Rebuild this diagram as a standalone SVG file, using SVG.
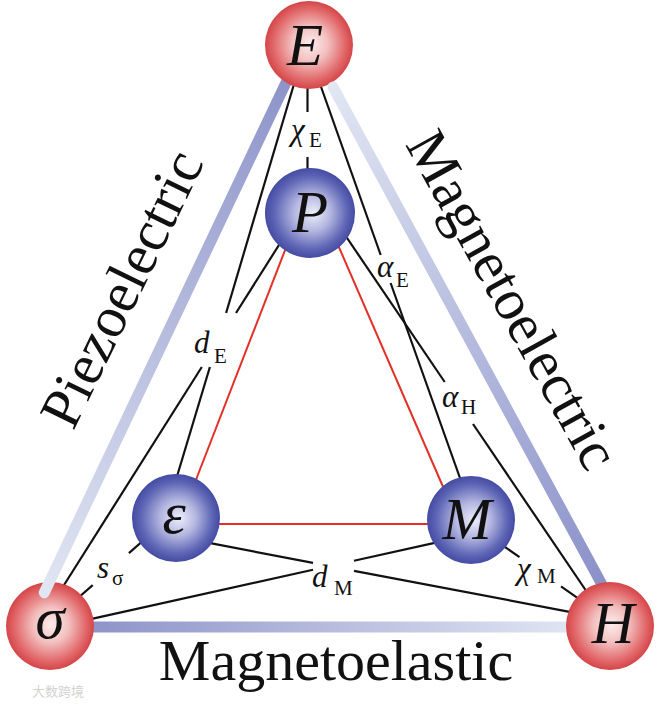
<svg xmlns="http://www.w3.org/2000/svg" width="661" height="704" viewBox="0 0 661 704">
<defs>
<style>
.ln{stroke:#111;stroke-width:2.2;fill:none;stroke-linecap:butt}
.rd{stroke:#e33027;stroke-width:2;fill:none}
.bar{fill:none;stroke-width:11}
.serif{font-family:"Liberation Serif","Times New Roman",serif;fill:#111}
.big{font-size:58px}
.nt{font-size:59px;font-style:italic;text-anchor:middle}
.sym{font-size:31px;font-style:italic}
.sub{font-size:21px;font-style:normal}
</style>
<radialGradient id="gRed" cx="50%" cy="50%" r="50%" fx="52%" fy="48%">
<stop offset="0" stop-color="#fbecec"/>
<stop offset="0.4" stop-color="#f3c0c0"/>
<stop offset="0.8" stop-color="#e26a6c"/>
<stop offset="1" stop-color="#d44548"/>
</radialGradient>
<radialGradient id="gBlue" cx="50%" cy="50%" r="50%" fx="54%" fy="50%">
<stop offset="0" stop-color="#eceefa"/>
<stop offset="0.4" stop-color="#b4b7e0"/>
<stop offset="0.8" stop-color="#6067b6"/>
<stop offset="1" stop-color="#444ba3"/>
</radialGradient>
<linearGradient id="gLeft" gradientUnits="userSpaceOnUse" x1="292" y1="70" x2="44" y2="593">
<stop offset="0" stop-color="#8c92c8"/>
<stop offset="1" stop-color="#e1e6f3"/>
</linearGradient>
<linearGradient id="gRight" gradientUnits="userSpaceOnUse" x1="333" y1="87" x2="606" y2="592">
<stop offset="0" stop-color="#e1e6f3"/>
<stop offset="1" stop-color="#8a90c8"/>
</linearGradient>
<linearGradient id="gBottom" gradientUnits="userSpaceOnUse" x1="70" y1="627" x2="590" y2="627">
<stop offset="0" stop-color="#8a90c7"/>
<stop offset="1" stop-color="#e3e8f4"/>
</linearGradient>
</defs>
<rect width="661" height="704" fill="#fff"/>

<g id="connectors">
<line class="rd" x1="289" y1="240" x2="192" y2="490"/>
<line class="rd" x1="338" y1="245" x2="444" y2="489"/>
<line class="rd" x1="215" y1="524" x2="432" y2="524"/>
<line class="ln" x1="307.5" y1="85" x2="307.5" y2="112"/>
<line class="ln" x1="307.5" y1="157" x2="307.5" y2="172"/>
<line class="ln" x1="295.2" y1="80" x2="226.1" y2="313"/>
<line class="ln" x1="209.9" y1="367" x2="175.9" y2="480"/>
<line class="ln" x1="283.4" y1="238" x2="236" y2="313"/>
<line class="ln" x1="201.8" y1="367" x2="59.6" y2="592"/>
<line class="ln" x1="318.6" y1="80" x2="380.7" y2="255"/>
<line class="ln" x1="390.6" y1="283" x2="461.4" y2="482"/>
<line class="ln" x1="343" y1="232" x2="444.7" y2="382"/>
<line class="ln" x1="473" y1="424" x2="591" y2="598"/>
<line class="ln" x1="205" y1="542.2" x2="313" y2="562.9"/>
<line class="ln" x1="354" y1="570.8" x2="580" y2="613.8"/>
<line class="ln" x1="438" y1="542.1" x2="354" y2="560.7"/>
<line class="ln" x1="313" y1="569.8" x2="85" y2="620.4"/>
<line class="ln" x1="145" y1="539" x2="128.9" y2="553.1"/>
<line class="ln" x1="92.7" y1="585.1" x2="78" y2="598"/>
<line class="ln" x1="500" y1="543.5" x2="519.5" y2="557.2"/>
<line class="ln" x1="561" y1="586.4" x2="582" y2="601.1"/>
<line id="bar-bottom" class="bar" stroke="url(#gBottom)" x1="70" y1="627" x2="590" y2="627" stroke-width="12"/>
</g>

<g id="node-sigma">
<circle cx="50" cy="626" r="44" fill="url(#gRed)"/>
<text class="serif nt" x="50" y="638">σ</text>
</g>

<line id="bar-left" class="bar" stroke="url(#gLeft)" stroke-linecap="round" x1="292" y1="70" x2="44.3" y2="592.7"/>

<g id="node-E">
<circle cx="309" cy="45" r="44" fill="url(#gRed)"/>
<text class="serif nt" x="305" y="65">E</text>
</g>

<line id="bar-right" class="bar" stroke="url(#gRight)" stroke-linecap="round" x1="333" y1="87" x2="606" y2="592"/>

<g id="node-H">
<circle cx="610" cy="626" r="44" fill="url(#gRed)"/>
<text class="serif nt" x="613" y="643">H</text>
</g>

<g id="node-P">
<circle cx="310" cy="213" r="45" fill="url(#gBlue)"/>
<text class="serif nt" x="310" y="232">P</text>
</g>

<g id="node-epsilon">
<circle cx="176" cy="518" r="44" fill="url(#gBlue)"/>
<text class="serif nt" x="174" y="533">ε</text>
</g>

<g id="node-M">
<circle cx="471" cy="520" r="44" fill="url(#gBlue)"/>
<text class="serif nt" x="467" y="539">M</text>
</g>

<g id="labels">
<text class="serif sym" x="291" y="140">χ<tspan class="sub" x="309" y="147">E</tspan></text>
<text class="serif sym" x="194" y="353">d<tspan class="sub" x="214" y="363">E</tspan></text>
<text class="serif sym" x="377" y="277">α<tspan class="sub" x="396" y="287">E</tspan></text>
<text class="serif sym" x="442" y="407">α<tspan class="sub" x="461" y="414">H</tspan></text>
<text class="serif sym" x="97" y="578">s<tspan class="sub" x="112" y="585">σ</tspan></text>
<text class="serif sym" x="312" y="587">d<tspan class="sub" x="334" y="595">M</tspan></text>
<text class="serif sym" x="517" y="579">χ<tspan class="sub" x="537" y="583">M</tspan></text>
</g>

<g id="titles">
<text class="serif big" text-anchor="middle" font-size="59" transform="translate(139,297) rotate(-64)">Piezoelectric</text>
<text class="serif big" text-anchor="middle" transform="translate(496,309) rotate(61)">Magnetoelectric</text>
<text class="serif big" text-anchor="middle" x="336" y="680">Magnetoelastic</text>
</g>

<text x="32" y="696" font-family="'Noto Sans CJK SC',sans-serif" font-size="13" fill="#d2d2d2">大数跨境</text>
</svg>
